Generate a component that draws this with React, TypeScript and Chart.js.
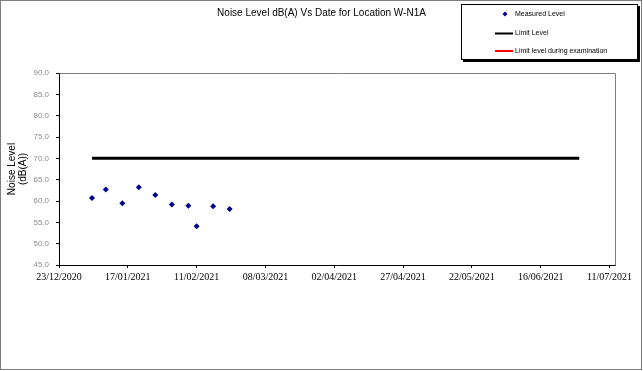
import React, { useEffect, useRef } from "react";
import { Chart, registerables } from "chart.js";

Chart.register(...registerables);

// ---- data ----
const axisStartDate = "2020-12-23";
const axisEndDayOffset = 202;
const xTickDates = [
  "2020-12-23", "2021-01-17", "2021-02-11", "2021-03-08", "2021-04-02",
  "2021-04-27", "2021-05-22", "2021-06-16", "2021-07-11",
];
const measuredDates = [
  "2021-01-04", "2021-01-09", "2021-01-15", "2021-01-21", "2021-01-27",
  "2021-02-02", "2021-02-08", "2021-02-11", "2021-02-17", "2021-02-23",
];
const measuredLevels = [60.7, 62.7, 59.5, 63.2, 61.4, 59.2, 58.9, 54.1, 58.75, 58.1];
const limitDates = ["2021-01-04", "2021-06-30"];
const limitLevels = [70, 70];
const examLimitDates: string[] = [];
const examLimitLevels: number[] = [];
const yMin = 45;
const yMax = 90;
const yStep = 5;

const titleText = "Noise Level dB(A) Vs Date for Location W-N1A";
const yTitleLines = ["Noise Level", "(dB(A))"];
const seriesLabels = ["Measured Level", "Limit Level", "Limit level during examination"];

const DAY = 86400000;
const baseMs = Date.parse(axisStartDate + "T00:00:00Z");
const toDay = (s: string) => Math.round((Date.parse(s + "T00:00:00Z") - baseMs) / DAY);
const fmtDay = (d: number) => {
  const dt = new Date(baseMs + Math.round(d) * DAY);
  const dd = String(dt.getUTCDate()).padStart(2, "0");
  const mm = String(dt.getUTCMonth() + 1).padStart(2, "0");
  return `${dd}/${mm}/${dt.getUTCFullYear()}`;
};

const SANS = "'Liberation Sans', Arial, sans-serif";

const framePlugin = {
  id: "frameAndLegend",
  afterDraw(chart: any) {
    const ctx = chart.ctx as CanvasRenderingContext2D;
    const a = chart.chartArea;
    ctx.save();
    // plot area top & right border
    ctx.strokeStyle = "#808080";
    ctx.lineWidth = 1;
    ctx.beginPath();
    ctx.moveTo(Math.round(a.left) + 0.5, Math.round(a.top) + 0.5);
    ctx.lineTo(Math.round(a.right) + 0.5, Math.round(a.top) + 0.5);
    ctx.lineTo(Math.round(a.right) + 0.5, Math.round(a.bottom) + 0.5);
    ctx.stroke();
    // outer border
    ctx.strokeStyle = "#7f7f7f";
    ctx.strokeRect(0.5, 0.5, 641, 369);

    // chart title
    ctx.fillStyle = "#000";
    ctx.font = `10px ${SANS}`;
    ctx.textAlign = "center";
    ctx.textBaseline = "middle";
    ctx.fillText(titleText, 321.5, 13.5);

    // legend box
    const bx = 461, by = 4, bw = 177, bh = 56;
    ctx.fillStyle = "#000";
    ctx.fillRect(bx + 2, by + 2, bw, bh);
    ctx.fillStyle = "#fff";
    ctx.fillRect(bx, by, bw, bh);
    ctx.strokeStyle = "#000";
    ctx.strokeRect(bx + 0.5, by + 0.5, bw - 1, bh - 1);

    const rows = [14, 33.5, 51];
    const ds = chart.data.datasets;
    ctx.font = `7px ${SANS}`;
    ctx.textBaseline = "middle";
    ctx.textAlign = "left";
    ds.forEach((d: any, i: number) => {
      const y = rows[i];
      if (i === 0) {
        ctx.fillStyle = d.backgroundColor;
        ctx.beginPath();
        ctx.moveTo(505, y - 2.5);
        ctx.lineTo(507.5, y);
        ctx.lineTo(505, y + 2.5);
        ctx.lineTo(502.5, y);
        ctx.closePath();
        ctx.fill();
      } else {
        ctx.strokeStyle = d.borderColor;
        ctx.lineWidth = 2;
        ctx.beginPath();
        ctx.moveTo(495, y);
        ctx.lineTo(513, y);
        ctx.stroke();
      }
      ctx.fillStyle = "#000";
      ctx.fillText(d.label, 515, y);
    });
    ctx.restore();
  },
};

export default function App() {
  const ref = useRef<HTMLCanvasElement | null>(null);

  useEffect(() => {
    if (!ref.current) return;
    const xTicks = xTickDates.map(toDay);
    const chart = new Chart(ref.current, {
      type: "scatter",
      data: {
        datasets: [
          {
            label: seriesLabels[0],
            data: measuredDates.map((d, i) => ({ x: toDay(d), y: measuredLevels[i] })),
            showLine: false,
            pointStyle: "rectRot",
            pointRadius: 3,
            backgroundColor: "#00008f",
            borderColor: "#00008f",
            borderWidth: 0,
          },
          {
            label: seriesLabels[1],
            data: limitDates.map((d, i) => ({ x: toDay(d), y: limitLevels[i] })),
            showLine: true,
            borderColor: "#000000",
            backgroundColor: "#000000",
            borderWidth: 3,
            pointRadius: 0,
          },
          {
            label: seriesLabels[2],
            data: examLimitDates.map((d, i) => ({ x: toDay(d), y: examLimitLevels[i] })),
            showLine: true,
            borderColor: "#ff0000",
            backgroundColor: "#ff0000",
            borderWidth: 2,
            pointRadius: 0,
          },
        ],
      },
      options: {
        animation: false,
        responsive: false,
        layout: { padding: { left: 0, right: 28, top: 73, bottom: 76 } },
        plugins: {
          legend: { display: false },
          tooltip: { enabled: false },
          title: { display: false },
        },
        scales: {
          x: {
            type: "linear",
            min: 0,
            max: axisEndDayOffset,
            afterBuildTicks: (axis: any) => {
              axis.ticks = xTicks.map((v) => ({ value: v }));
            },
            afterFit: (axis: any) => {
              axis.height = 30;
            },
            grid: {
              display: true,
              drawOnChartArea: false,
              drawTicks: true,
              tickLength: 3,
              color: "#000",
            },
            border: { display: true, color: "#000", width: 1 },
            ticks: {
              autoSkip: false,
              maxRotation: 0,
              padding: 3,
              color: "#000",
              font: { family: "'Liberation Serif', 'Times New Roman', serif", size: 10 },
              callback: (v: any) => fmtDay(Number(v)),
            },
          },
          y: {
            type: "linear",
            min: yMin,
            max: yMax,
            afterFit: (axis: any) => {
              axis.width = 59;
            },
            grid: {
              display: true,
              drawOnChartArea: false,
              drawTicks: true,
              tickLength: 3,
              color: "#000",
            },
            border: { display: true, color: "#000", width: 1 },
            ticks: {
              stepSize: yStep,
              padding: 7,
              color: "#8c8c8c",
              font: { family: SANS, size: 8 },
              callback: (v: any) => Number(v).toFixed(1),
            },
            title: {
              display: true,
              text: yTitleLines,
              color: "#000",
              font: { family: SANS, size: 10, lineHeight: 1.16 },
              padding: { top: 6, bottom: 0 },
            },
          },
        },
      },
      plugins: [framePlugin],
    } as any);
    return () => chart.destroy();
  }, []);

  return (
    <div style={{ position: "absolute", left: 0, top: 0, width: 643, height: 371, background: "#fff" }}>
      <canvas ref={ref} width={643} height={371} style={{ display: "block" }} />
    </div>
  );
}
